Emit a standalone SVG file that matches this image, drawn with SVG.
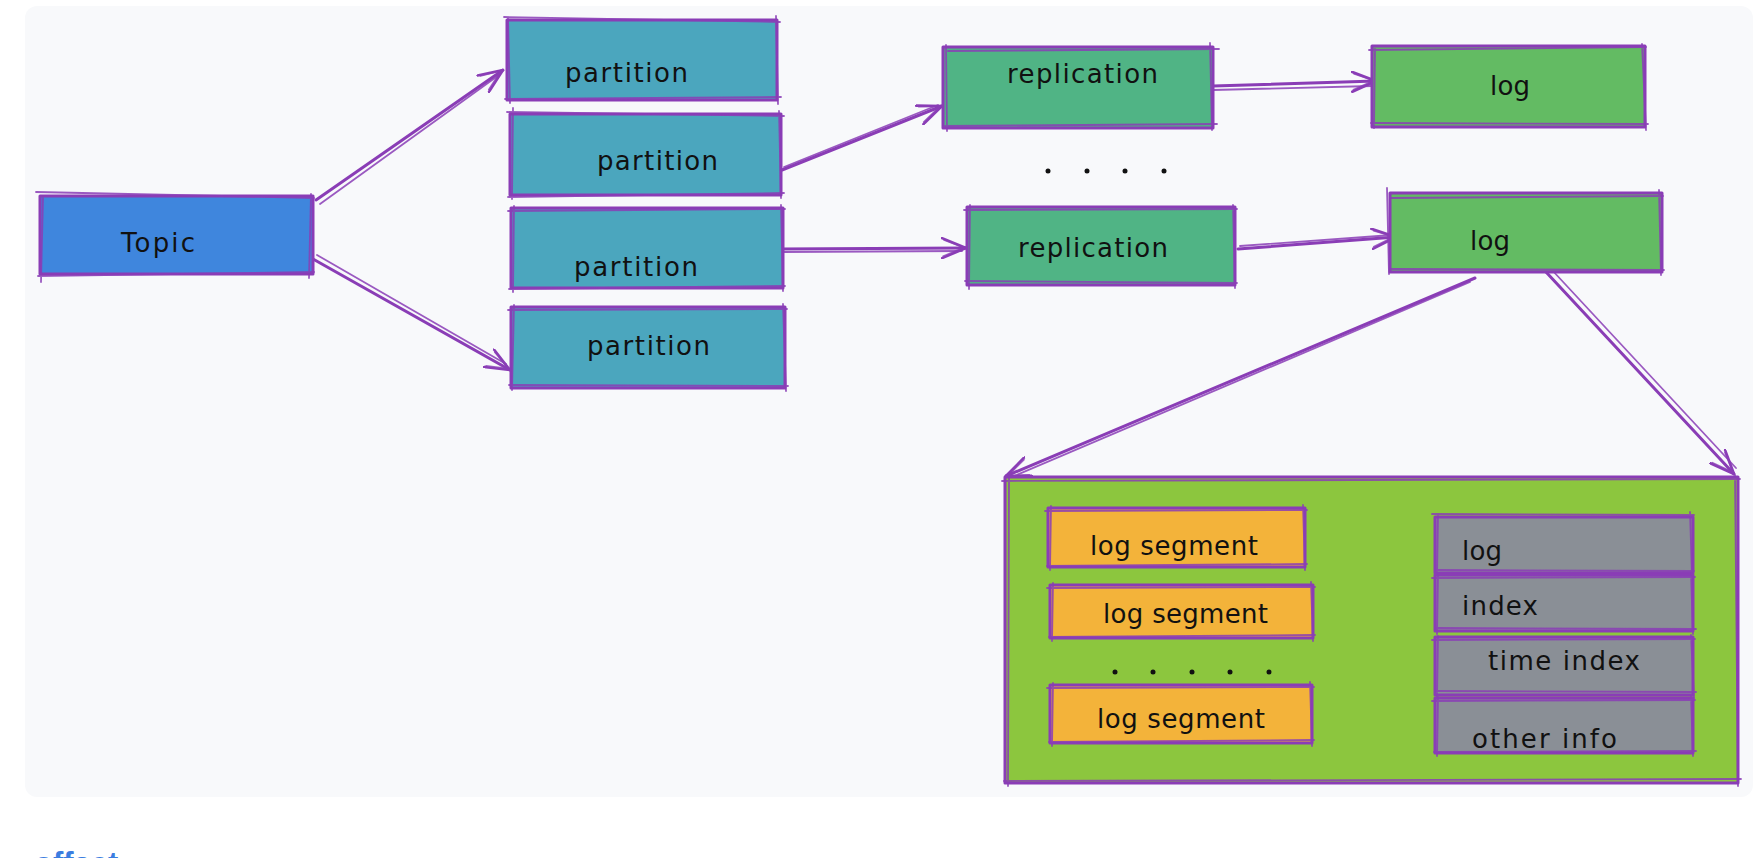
<svg xmlns="http://www.w3.org/2000/svg" width="1758" height="858" viewBox="0 0 1758 858">
<defs>
<style>
.st{fill:none;stroke:#8a3db6;stroke-width:3;stroke-linecap:round;stroke-linejoin:round}
.st2{fill:none;stroke:#8a3db6;stroke-width:1.8;stroke-linecap:round;opacity:.85}
.tx{font-family:"DejaVu Sans","Liberation Sans",sans-serif;font-size:26px;fill:#111}
.topic{fill:#3f86dd}
.part{fill:#4ba6be}
.rep{fill:#50b485}
.log{fill:#63bb63}
.big{fill:#8cc63e}
.seg{fill:#f3b33a}
.gray{fill:#8a8f96}
.dot{fill:#111}
</style>
<marker id="arr" viewBox="0 0 26 22" refX="25" refY="11" markerWidth="26" markerHeight="22" markerUnits="userSpaceOnUse" orient="auto">
<path d="M1,1 L25,11 L1,21" fill="none" stroke="#8a3db6" stroke-width="2.6" stroke-linecap="round" stroke-linejoin="round"/>
<path d="M3,3 L24,11 M2,19 L24,10" fill="none" stroke="#8a3db6" stroke-width="1.5" stroke-linecap="round" opacity=".8"/>
</marker>
</defs>
<rect x="0" y="0" width="1758" height="858" fill="#ffffff"/>
<rect x="25" y="6" width="1728" height="791" rx="12" fill="#f8f9fb"/>

<g id="connectors">
<path class="st" d="M316,200 L503,70" marker-end="url(#arr)"/>
<path class="st2" d="M320,204 L499,75"/>
<path class="st" d="M313,259 L510,370" marker-end="url(#arr)"/>
<path class="st2" d="M317,255 L506,364"/>
<path class="st" d="M782,170 L942,106" marker-end="url(#arr)"/>
<path class="st2" d="M784,167 L938,105"/>
<path class="st" d="M780,249 L966,248" marker-end="url(#arr)"/>
<path class="st2" d="M782,252 L962,251"/>
<path class="st" d="M1213,86 L1376,81" marker-end="url(#arr)"/>
<path class="st2" d="M1213,90 L1372,86"/>
<path class="st" d="M1238,249 L1396,237" marker-end="url(#arr)"/>
<path class="st2" d="M1240,246 L1392,235"/>
<path class="st" d="M1475,278 L1006,476" marker-end="url(#arr)"/>
<path class="st2" d="M1470,282 L1012,477"/>
<path class="st" d="M1546,272 L1734,474" marker-end="url(#arr)"/>
<path class="st2" d="M1552,270 L1736,468"/>
<path class="st" d="M1318,710 L1437,530" marker-end="url(#arr)"/>
<path class="st2" d="M1322,708 L1434,536"/>
<path class="st" d="M1318,710 L1440,733" marker-end="url(#arr)"/>
<path class="st2" d="M1316,714 L1436,736"/>
</g>

<g id="topic">
<rect class="topic" x="40" y="196" width="273" height="78"/>
<rect class="st" x="40" y="196" width="273" height="78"/>
<path class="st2" d="M36,192 L314,198 M311,194 L309,278 M314,272 L38,276 M41,282 L43,198"/>
<text class="tx" x="121" y="252" textLength="74" lengthAdjust="spacing">Topic</text>
</g>

<g id="partition1">
<rect class="part" x="507" y="20" width="270" height="80"/>
<rect class="st" x="507" y="20" width="270" height="80"/>
<path class="st2" d="M504,17 L780,22 M776,16 L778,104 M781,97 L505,99 M510,103 L508,18"/>
<text class="tx" x="565" y="82" textLength="123" lengthAdjust="spacing">partition</text>
</g>
<g id="partition2">
<rect class="part" x="510" y="114" width="271" height="81"/>
<rect class="st" x="510" y="114" width="271" height="81"/>
<path class="st2" d="M507,112 L784,116 M779,111 L781,198 M784,193 L508,197 M513,108 L512,199"/>
<text class="tx" x="597" y="170" textLength="121" lengthAdjust="spacing">partition</text>
</g>
<g id="partition3">
<rect class="part" x="511" y="208" width="272" height="80"/>
<rect class="st" x="511" y="208" width="272" height="80"/>
<path class="st2" d="M508,211 L785,209 M781,205 L783,291 M785,286 L509,289 M514,206 L513,292"/>
<text class="tx" x="574" y="276" textLength="124" lengthAdjust="spacing">partition</text>
</g>
<g id="partition4">
<rect class="part" x="511" y="307" width="274" height="81"/>
<rect class="st" x="511" y="307" width="274" height="81"/>
<path class="st2" d="M508,310 L787,309 M783,304 L786,391 M788,386 L509,385 M514,305 L512,390"/>
<text class="tx" x="587" y="355" textLength="123" lengthAdjust="spacing">partition</text>
</g>

<g id="replication1">
<rect class="rep" x="943" y="47" width="270" height="81"/>
<rect class="st" x="943" y="47" width="270" height="81"/>
<path class="st2" d="M948,51 L1219,49 M1210,43 L1212,130 M1217,124 L945,126 M946,45 L947,131"/>
<text class="tx" x="1007" y="83" textLength="151" lengthAdjust="spacing">replication</text>
</g>
<g id="replication2">
<rect class="rep" x="967" y="207" width="268" height="78"/>
<rect class="st" x="967" y="207" width="268" height="78"/>
<path class="st2" d="M964,210 L1237,209 M1233,205 L1235,288 M1237,283 L965,281 M970,205 L969,289"/>
<text class="tx" x="1018" y="257" textLength="150" lengthAdjust="spacing">replication</text>
</g>

<g id="log1">
<rect class="log" x="1372" y="46" width="273" height="81"/>
<rect class="st" x="1372" y="46" width="273" height="81"/>
<path class="st2" d="M1369,50 L1646,47 M1642,44 L1646,130 M1648,124 L1371,123 M1375,49 L1374,128"/>
<text class="tx" x="1490" y="95" textLength="40" lengthAdjust="spacing">log</text>
</g>
<g id="log2">
<rect class="log" x="1390" y="193" width="272" height="79"/>
<rect class="st" x="1390" y="193" width="272" height="79"/>
<path class="st2" d="M1391,198 L1663,196 M1659,190 L1661,275 M1664,270 L1391,269 M1387,188 L1389,274"/>
<text class="tx" x="1470" y="250" textLength="40" lengthAdjust="spacing">log</text>
</g>

<g id="dots-top">
<circle class="dot" cx="1048" cy="171" r="2.5"/>
<circle class="dot" cx="1087" cy="171" r="2.5"/>
<circle class="dot" cx="1125" cy="171" r="2.5"/>
<circle class="dot" cx="1164" cy="171" r="2.5"/>
</g>

<g id="log-detail">
<rect class="big" x="1005" y="477" width="733" height="306"/>
<rect class="st" x="1005" y="477" width="733" height="306"/>
<path class="st2" d="M1002,481 L1740,479 M1735,475 L1738,786 M1741,779 L1004,781 M1009,476 L1008,786"/>
</g>

<g id="segment1">
<rect class="seg" x="1048" y="508" width="257" height="59"/>
<rect class="st" x="1048" y="508" width="257" height="59"/>
<path class="st2" d="M1045,511 L1307,510 M1303,505 L1305,570 M1307,564 L1047,566 M1051,506 L1050,570"/>
<text class="tx" x="1090" y="555" textLength="168" lengthAdjust="spacing">log segment</text>
</g>
<g id="segment2">
<rect class="seg" x="1050" y="585" width="263" height="53"/>
<rect class="st" x="1050" y="585" width="263" height="53"/>
<path class="st2" d="M1047,588 L1315,587 M1311,582 L1313,641 M1315,635 L1049,637 M1053,583 L1052,641"/>
<text class="tx" x="1103" y="623" textLength="165" lengthAdjust="spacing">log segment</text>
</g>
<g id="dots-segments">
<circle class="dot" cx="1115" cy="672" r="2.5"/>
<circle class="dot" cx="1153" cy="672" r="2.5"/>
<circle class="dot" cx="1192" cy="672" r="2.5"/>
<circle class="dot" cx="1230" cy="672" r="2.5"/>
<circle class="dot" cx="1269" cy="672" r="2.5"/>
</g>
<g id="segment3">
<rect class="seg" x="1050" y="685" width="262" height="58"/>
<rect class="st" x="1050" y="685" width="262" height="58"/>
<path class="st2" d="M1047,688 L1314,687 M1310,682 L1312,746 M1314,740 L1049,742 M1053,683 L1052,746"/>
<text class="tx" x="1097" y="728" textLength="168" lengthAdjust="spacing">log segment</text>
</g>

<g id="file-log">
<rect class="gray" x="1435" y="517" width="258" height="56"/>
<rect class="st" x="1435" y="517" width="258" height="56"/>
<path class="st2" d="M1432,514 L1694,515 M1690,512 L1692,576 M1694,571 L1436,570 M1438,515 L1437,576"/>
<text class="tx" x="1462" y="560" textLength="40" lengthAdjust="spacing">log</text>
</g>
<g id="file-index">
<rect class="gray" x="1435" y="575" width="258" height="56"/>
<rect class="st" x="1435" y="575" width="258" height="56"/>
<path class="st2" d="M1432,578 L1695,577 M1691,573 L1693,634 M1696,629 L1436,628 M1438,574 L1437,634"/>
<text class="tx" x="1462" y="615" textLength="76" lengthAdjust="spacing">index</text>
</g>
<g id="file-timeindex">
<rect class="gray" x="1435" y="637" width="258" height="58"/>
<rect class="st" x="1435" y="637" width="258" height="58"/>
<path class="st2" d="M1432,640 L1695,639 M1691,635 L1694,698 M1696,692 L1436,691 M1438,636 L1437,697"/>
<text class="tx" x="1488" y="670" textLength="152" lengthAdjust="spacing">time index</text>
</g>
<g id="file-other">
<rect class="gray" x="1435" y="698" width="258" height="55"/>
<rect class="st" x="1435" y="698" width="258" height="55"/>
<path class="st2" d="M1432,701 L1695,700 M1691,696 L1693,756 M1696,751 L1434,752 M1438,697 L1437,756"/>
<text class="tx" x="1472" y="748" textLength="145" lengthAdjust="spacing">other info</text>
</g>

<text x="34" y="874" font-family="Liberation Sans, Arial, sans-serif" font-size="31" font-weight="bold" fill="#3b7de0">offset</text>
</svg>
